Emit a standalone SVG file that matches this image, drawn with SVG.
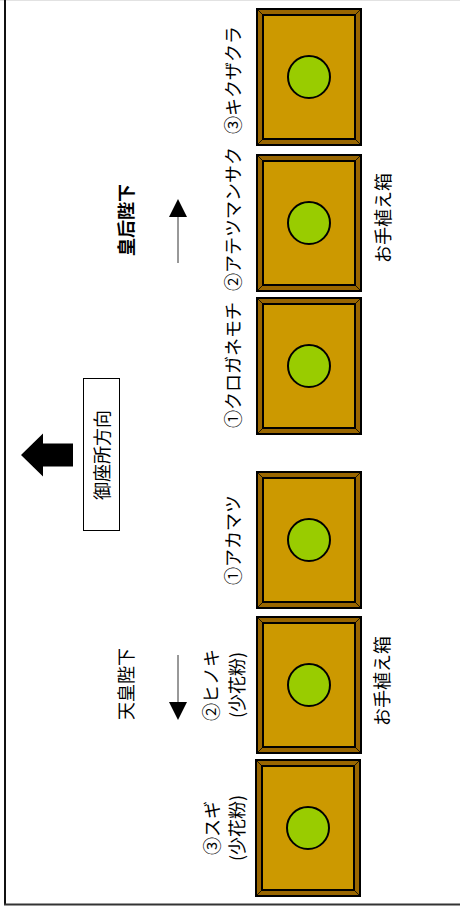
<svg xmlns="http://www.w3.org/2000/svg" xmlns:xlink="http://www.w3.org/1999/xlink" width="460" height="906" viewBox="0 0 460 906">
  <style>
    .lbl { font-family: "Noto Sans CJK JP", "Noto Sans", sans-serif; font-size: 18px; fill: #000; text-anchor: middle; dominant-baseline: central; }
    .who { font-weight: bold; }
    .frame { fill: #996600; stroke: #000; stroke-width: 2; }
    .bed { fill: #CC9900; stroke: #000; stroke-width: 2; }
    .bevel { stroke: #000; stroke-width: 0.8; }
    .tree { fill: #99CC00; stroke: #000; stroke-width: 2; }
    .guide { stroke: #333; stroke-width: 1; fill: none; }
  </style>
  <defs>
    <!-- planter box: bevelled wooden frame with a tree in the middle -->
    <g id="planter">
      <rect class="frame" x="1" y="1" width="104" height="136"/>
      <line class="bevel" x1="1" y1="1" x2="7" y2="7"/>
      <line class="bevel" x1="105" y1="1" x2="99" y2="7"/>
      <line class="bevel" x1="1" y1="137" x2="7" y2="131"/>
      <line class="bevel" x1="105" y1="137" x2="99" y2="131"/>
      <rect class="bed" x="7" y="7" width="92" height="124"/>
      <circle class="tree" cx="53" cy="69" r="21"/>
    </g>
    <marker id="head" viewBox="0 0 10 10" refX="0" refY="5" markerWidth="18" markerHeight="18" markerUnits="userSpaceOnUse" orient="auto">
      <path d="M0,0 L10,5 L0,10 Z" fill="#000"/>
    </marker>
  </defs>

  <rect x="0" y="0" width="460" height="906" fill="#fff"/>

  <!-- outer border -->
  <g id="border">
    <line x1="0" y1="0.5" x2="460" y2="0.5" stroke="#e2e2e2" stroke-width="1"/>
    <line x1="5" y1="0" x2="5" y2="905" stroke="#111" stroke-width="2"/>
    <line x1="4" y1="904.5" x2="460" y2="904.5" stroke="#333" stroke-width="2"/>
  </g>

  <!-- planter boxes -->
  <g id="box-kikuzakura" transform="translate(256,8)"><use xlink:href="#planter"/></g>
  <g id="box-atetsumansaku" transform="translate(256,154)"><use xlink:href="#planter"/></g>
  <g id="box-kuroganemochi" transform="translate(256,297)"><use xlink:href="#planter"/></g>
  <g id="box-akamatsu" transform="translate(256,471)"><use xlink:href="#planter"/></g>
  <g id="box-hinoki" transform="translate(256,616)"><use xlink:href="#planter"/></g>
  <g id="box-sugi" transform="translate(255,759)"><use xlink:href="#planter"/></g>

  <!-- tree names -->
  <g id="name-kikuzakura"><text class="lbl" transform="translate(232,80) rotate(-90)">③キクザクラ</text></g>
  <g id="name-atetsumansaku"><text class="lbl" transform="translate(232,219) rotate(-90)">②アテツマンサク</text></g>
  <g id="name-kuroganemochi"><text class="lbl" transform="translate(232,365) rotate(-90)">①クロガネモチ</text></g>
  <g id="name-akamatsu"><text class="lbl" transform="translate(232,540) rotate(-90)">①アカマツ</text></g>
  <g id="name-hinoki">
    <text class="lbl" transform="translate(210,685) rotate(-90)">②ヒノキ</text>
    <text class="lbl" transform="translate(236,685) rotate(-90)">(少花粉)</text>
  </g>
  <g id="name-sugi">
    <text class="lbl" transform="translate(211,828) rotate(-90)">③スギ</text>
    <text class="lbl" transform="translate(236,828) rotate(-90)">(少花粉)</text>
  </g>

  <!-- planter captions -->
  <g id="caption-empress"><text class="lbl" transform="translate(382,218) rotate(-90)">お手植え箱</text></g>
  <g id="caption-emperor"><text class="lbl" transform="translate(381,681) rotate(-90)">お手植え箱</text></g>

  <!-- planters' owners -->
  <g id="empress"><text class="lbl who" transform="translate(125,220) rotate(-90)">皇后陛下</text></g>
  <g id="emperor"><text class="lbl" transform="translate(125,684) rotate(-90)">天皇陛下</text></g>

  <!-- direction to the Imperial residence -->
  <g id="gozasho">
    <rect x="83.5" y="378.5" width="36" height="152" fill="#fff" stroke="#000" stroke-width="1"/>
    <text class="lbl" transform="translate(101,455) rotate(-90)">御座所方向</text>
  </g>

  <!-- connectors -->
  <g id="connectors">
    <path id="arrow-gozasho" d="M21,455 L43,433.5 L43,443.5 L73,443.5 L73,466.5 L43,466.5 L43,476.5 Z" fill="#000"/>
    <line class="guide" x1="178" y1="263" x2="178" y2="217" marker-end="url(#head)"/>
    <line class="guide" x1="178" y1="655" x2="178" y2="702" marker-end="url(#head)"/>
  </g>
</svg>
